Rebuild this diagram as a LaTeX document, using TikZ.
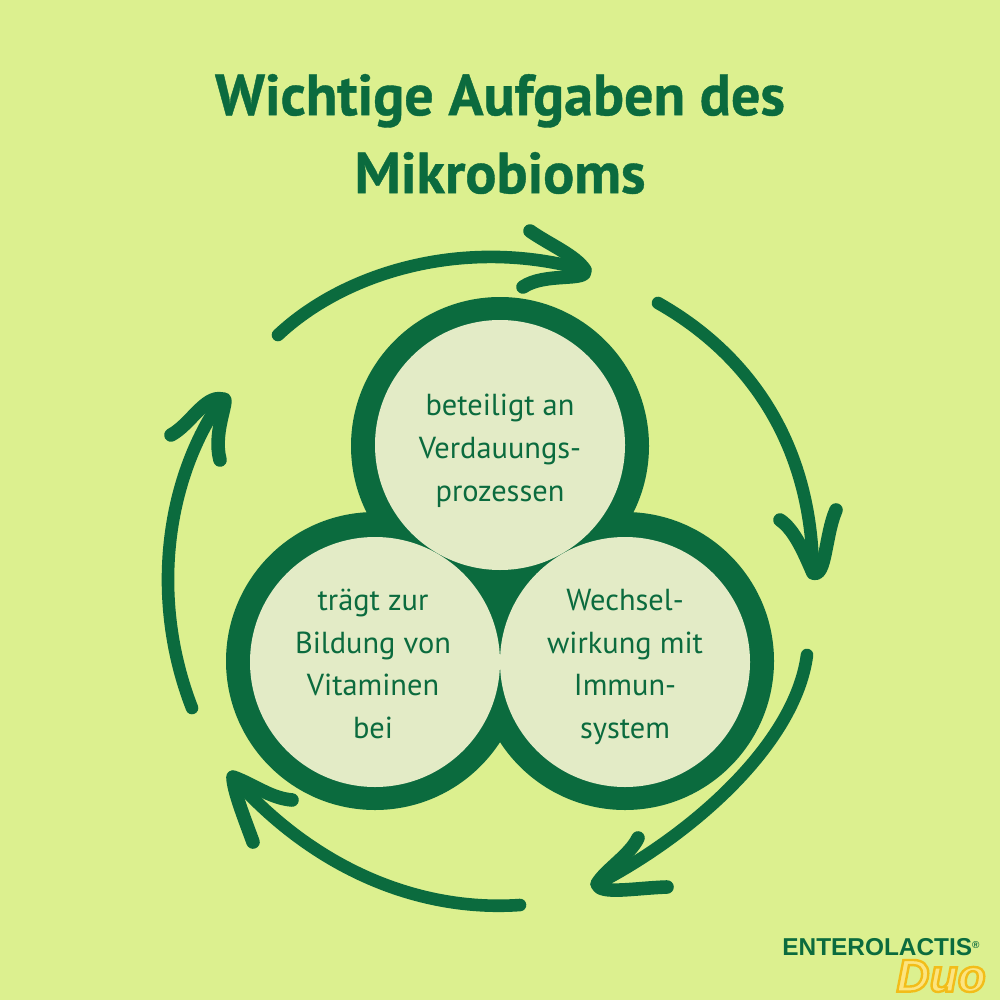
\documentclass[tikz,border=0pt]{standalone}
\usepackage{fontspec}
\setmainfont{PT Sans}
\newfontfamily\logofont{Liberation Sans}
\newfontfamily\titlefont[FakeBold=0.7]{PT Sans Bold}
\definecolor{bgc}{HTML}{DCF08F}
\definecolor{dgreen}{HTML}{0B6B3E}
\definecolor{pale}{HTML}{E3EBC6}
\definecolor{duoc}{HTML}{FCE480}
\tikzset{
 ring/.style={circle,fill=dgreen,minimum size=149pt,inner sep=0pt},
 disc/.style={circle,fill=pale,minimum size=125pt,inner sep=0pt,text=dgreen},
 lbl/.style={text=dgreen,align=center,font=\fontsize{15.2}{21.4}\selectfont},
 sweep/.style={draw=dgreen,line width=6.3pt,line cap=round,line join=round},
 barb/.style={draw=dgreen,line width=6.8pt,line cap=round,line join=round},
 titletext/.style={text=dgreen,font=\titlefont\fontsize{29}{39}\selectfont,align=center},
}
\begin{document}
\begin{tikzpicture}[x=0.5pt,y=-0.5pt]
\useasboundingbox[fill=bgc] (0,0) rectangle (1000,1000);
\node[titletext] (title) at (500,134) {Wichtige Aufgaben des\\Mikrobioms};
\node[ring] (rt) at (500,446) {};
\node[ring] (rl) at (375,661) {};
\node[ring] (rr) at (625,661) {};
\node[disc] (top) at (500,445) {};
\node[disc] (left) at (375,662) {};
\node[disc] (right) at (625,662) {};
\node[lbl] (toplbl) at (500,451) {beteiligt an\\Verdauungs-\\prozessen};
\node[lbl] (leftlbl) at (373,664) {trägt zur\\Bildung von\\Vitaminen\\bei};
\node[lbl] (rightlbl) at (625,667) {Wechsel-\\wirkung mit\\Immun-\\system};
% arrow 1
\coordinate (a1s) at (278,335); \coordinate (a1t) at (585,270);
\coordinate (a1u) at (530,231); \coordinate (a1d) at (523,287);
\draw[sweep] (a1s) .. controls (345,272) and (465,236) .. (a1t);
\draw[barb] (a1u) .. controls (550,245) and (575,255) .. (a1t) .. controls (588,282) and (545,272) .. (a1d);
% arrow 2
\coordinate (a2s) at (658,303); \coordinate (a2t) at (813,573);
\coordinate (a2u) at (780,520); \coordinate (a2d) at (836,510);
\draw[sweep] (a2s) .. controls (750,355) and (812,445) .. (a2t);
\draw[barb] (a2u) .. controls (795,530) and (805,555) .. (a2t) .. controls (826,578) and (825,535) .. (a2d);
% arrow 3
\coordinate (a3s) at (807,655); \coordinate (a3t) at (597,884);
\coordinate (a3u) at (638,838); \coordinate (a3d) at (667,887);
\draw[sweep] (a3s) .. controls (795,745) and (690,836) .. (a3t);
\draw[barb] (a3u) .. controls (630,855) and (605,870) .. (a3t) .. controls (600,895) and (635,888) .. (a3d);
% arrow 4
\coordinate (a4s) at (520,905); \coordinate (a4t) at (233,777);
\coordinate (a4u) at (292,800); \coordinate (a4d) at (253,842);
\draw[sweep] (a4s) .. controls (420,912) and (315,870) .. (a4t);
\draw[barb] (a4u) .. controls (270,798) and (255,785) .. (a4t) .. controls (233,790) and (245,820) .. (a4d);
% arrow 5
\coordinate (a5s) at (192,708); \coordinate (a5t) at (222,399);
\coordinate (a5u) at (171,435); \coordinate (a5d) at (220,460);
\draw[sweep] (a5s) .. controls (150,600) and (165,480) .. (a5t);
\draw[barb] (a5u) .. controls (190,425) and (205,395) .. (a5t) .. controls (232,395) and (212,430) .. (a5d);
% logo
\node[text=dgreen,font=\logofont\bfseries\fontsize{12.2}{14}\selectfont,anchor=west,inner sep=0pt] (logo) at (782,947) {ENTEROLACTIS\raisebox{3.5pt}{\fontsize{5}{5}\selectfont®}};
\node[text=duoc,font=\logofont\bfseries\itshape\fontsize{23}{24}\selectfont,anchor=west,inner sep=0pt] (duo) at (896,976) {\special{pdf:code 2 Tr 1.2 w 0.95 0.74 0.1 RG}Duo\special{pdf:code 0 Tr}};
\end{tikzpicture}
\end{document}
